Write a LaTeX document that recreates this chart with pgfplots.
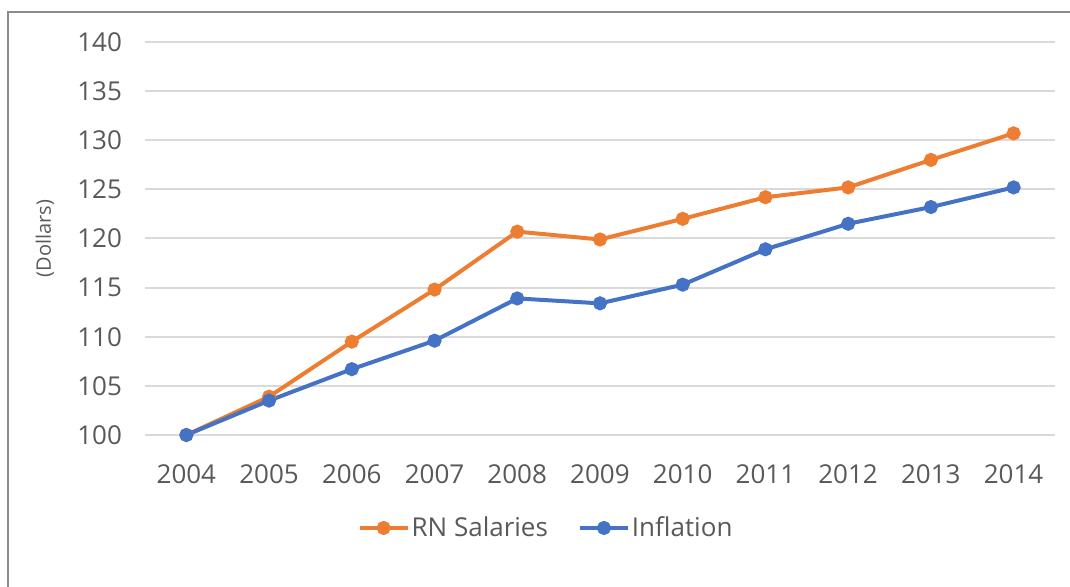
\documentclass[border=0pt]{standalone}
\usepackage{pgfplots}
\pgfplotsset{compat=1.18}
\usepackage{fontspec}
\setmainfont{Open Sans}

\definecolor{rnorange}{HTML}{ED7D31}
\definecolor{inflblue}{HTML}{4472C4}
\definecolor{txtgray}{HTML}{595959}
\definecolor{gridgray}{HTML}{D9D9D9}
\definecolor{framegray}{HTML}{8C8C8C}

\begin{document}
\begin{tikzpicture}
% picture area: 1070 x 587 px at 0.5pt per px, origin bottom left
\path[use as bounding box] (0pt,0pt) rectangle (535pt,293.5pt);
\draw[framegray, line width=0.8pt] (4pt,-5pt) -- (4pt,287.5pt) -- (540pt,287.5pt);
\begin{axis}[
  at={(72.5pt,76pt)}, anchor=south west,
  scale only axis,
  width=455pt, height=196.5pt,
  xmin=2003.5, xmax=2014.5,
  ymin=100, ymax=140,
  xtick={2004,...,2014},
  ytick={100,105,...,140},
  x tick label style={/pgf/number format/1000 sep={}},
  /pgf/number format/assume math mode=true,
  ticklabel style={font=\fontsize{13}{15}\selectfont, text=txtgray},
  yticklabel style={xshift=-8pt},
  xticklabel style={yshift=-11.5pt},
  major tick length=0pt,
  axis line style={draw=none},
  ymajorgrids,
  grid style={gridgray, line width=1pt},
  ylabel={(Dollars)},
  ylabel style={at={(axis description cs:-0.11,0.5)}, anchor=center,
    font=\fontsize{10}{12}\selectfont, text=txtgray},
  clip=false,
  legend columns=2,
  legend style={at={(axis description cs:0.4407,-0.2366)}, anchor=center,
    draw=none, fill=none, font=\fontsize{13}{15}\selectfont, text=txtgray,
    nodes={inner xsep=1pt},
    /tikz/every even column/.append style={column sep=14pt}},
  legend image code/.code={
    \draw[mark repeat=2, mark phase=2, #1]
      plot coordinates {(0pt,0pt) (12pt,0pt) (24pt,0pt)};},
]
\addplot[rnorange, line width=2pt, mark=*, mark size=2.5pt] coordinates {
  (2004,100.0) (2005,103.9) (2006,109.5) (2007,114.8) (2008,120.7)
  (2009,119.9) (2010,122.0) (2011,124.2) (2012,125.2) (2013,128.0)
  (2014,130.7)};
\addlegendentry{RN Salaries}
\addplot[inflblue, line width=2pt, mark=*, mark size=2.5pt] coordinates {
  (2004,100.0) (2005,103.5) (2006,106.7) (2007,109.6) (2008,113.9)
  (2009,113.4) (2010,115.3) (2011,118.9) (2012,121.5) (2013,123.2)
  (2014,125.2)};
\addlegendentry{Inflation}
\end{axis}
\end{tikzpicture}
\end{document}
